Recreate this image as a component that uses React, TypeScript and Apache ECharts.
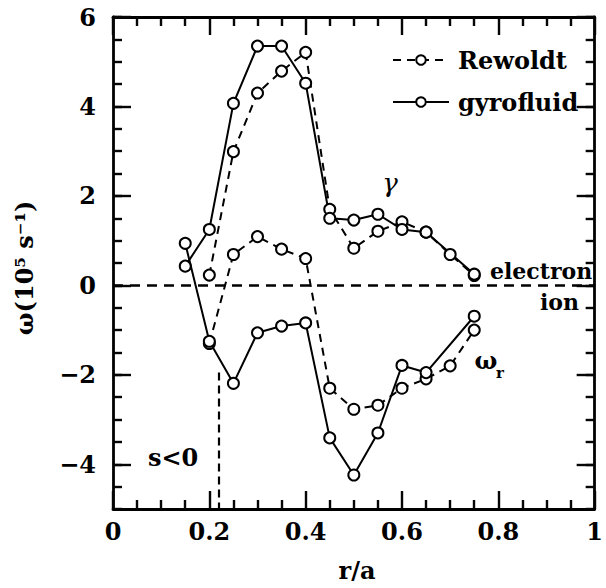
import React, { useEffect, useRef } from "react";
import * as echarts from "echarts";

const FONT = "'DejaVu Serif', serif";

// r/a positions
const gyroX = [0.15, 0.2, 0.25, 0.3, 0.35, 0.4, 0.45, 0.5, 0.55, 0.6, 0.65, 0.75];
const gyroGamma = [0.43, 1.25, 4.07, 5.35, 5.35, 4.52, 1.5, 1.46, 1.59, 1.25, 1.19, 0.25];
const gyroOmega = [0.94, -1.25, -2.19, -1.06, -0.91, -0.84, -3.41, -4.24, -3.3, -1.79, -1.95, -0.69];

const rewoldtX = [0.2, 0.25, 0.3, 0.35, 0.4, 0.45, 0.5, 0.55, 0.6, 0.65, 0.7, 0.75];
const rewoldtGamma = [0.23, 2.99, 4.3, 4.79, 5.21, 1.7, 0.83, 1.21, 1.42, 1.19, 0.69, 0.22];
const rewoldtOmega = [-1.3, 0.69, 1.09, 0.81, 0.6, -2.3, -2.77, -2.68, -2.3, -2.09, -1.8, -1.0];

const yMajorTicks = [-4, -2, 0, 2, 4, 6];
const sBoundaryX = 0.22;
const sBoundaryTop = -1.95;

const zip = (xs: number[], ys: number[]) => xs.map((x, i) => [x, ys[i]]);

const TICK_COLOR = "#050505";

function mkLine(name: string, xs: number[], ys: number[], dashed: boolean, extra: any = {}) {
  return {
    type: "line",
    name,
    data: zip(xs, ys),
    xAxisIndex: 0,
    yAxisIndex: 0,
    symbol: "emptyCircle",
    symbolSize: 11,
    showSymbol: true,
    itemStyle: { color: "#000", borderColor: "#000", borderWidth: 2 },
    lineStyle: { color: "#000", width: 2, type: dashed ? [8, 6] : "solid" },
    z: 3,
    ...extra,
  };
}

const axLine = () => ({ show: true, onZero: false, lineStyle: { color: "#000", width: 2.8 } });
const tick = (length: number, extra: any = {}) => ({
  show: true,
  inside: true,
  length,
  lineStyle: { color: TICK_COLOR, width: 2.4 },
  ...extra,
});
const labelStyle = () => ({ fontFamily: FONT, fontSize: 24, fontWeight: "bold", color: "#000" });

export default function App() {
  const ref = useRef<HTMLDivElement>(null);
  useEffect(() => {
    const chart = echarts.init(ref.current!, null, { renderer: "svg" });
    const option: any = {
      animation: false,
      grid: { left: 113, top: 17, right: 4, bottom: 79 },
      xAxis: [
        {
          type: "value",
          position: "bottom",
          min: 0,
          max: 1,
          interval: 0.2,
          axisLine: axLine(),
          axisTick: tick(18),
          minorTick: tick(9, { splitNumber: 4 }),
          splitLine: { show: false },
          axisLabel: {
            ...labelStyle(),
            margin: 10,
            formatter: (v: number) => (v === 0 ? "0" : Math.abs(v - 1) < 1e-9 ? "1" : v.toFixed(1)),
          },
        },
        {
          type: "value",
          position: "top",
          min: 0,
          max: 1,
          interval: 0.2,
          axisLine: axLine(),
          axisTick: tick(18),
          minorTick: tick(9, { splitNumber: 4 }),
          splitLine: { show: false },
          axisLabel: { show: false },
        },
      ],
      yAxis: [
        {
          type: "value",
          position: "left",
          min: -5,
          max: 6,
          interval: 0.5,
          axisLine: axLine(),
          axisTick: tick(9),
          splitLine: { show: false },
          axisLabel: {
            ...labelStyle(),
            margin: 17,
            formatter: (v: number) => {
              const r = Math.round(v * 2) / 2;
              if (Math.abs(r % 2) > 1e-9) return "";
              return r < 0 ? "\u2212" + -r : String(r);
            },
          },
        },
        {
          type: "value",
          position: "left",
          min: -5,
          max: 6,
          axisLine: { show: false, onZero: false },
          axisTick: tick(18, { customValues: yMajorTicks }),
          axisLabel: { show: false },
          splitLine: { show: false },
        },
        {
          type: "value",
          position: "right",
          min: -5,
          max: 6,
          interval: 0.5,
          axisLine: axLine(),
          axisTick: tick(9),
          axisLabel: { show: false },
          splitLine: { show: false },
        },
        {
          type: "value",
          position: "right",
          min: -5,
          max: 6,
          axisLine: { show: false, onZero: false },
          axisTick: tick(18, { customValues: yMajorTicks }),
          axisLabel: { show: false },
          splitLine: { show: false },
        },
      ],
      legend: {
        data: ["Rewoldt", "gyrofluid"],
        orient: "vertical",
        left: 387,
        top: 41,
        itemWidth: 56,
        itemHeight: 12,
        itemGap: 14,
        selectedMode: false,
        textStyle: { ...labelStyle(), lineHeight: 28, padding: [0, 0, 0, 4] },
      },
      series: [
        mkLine("Rewoldt", rewoldtX, rewoldtGamma, true, {
          markLine: {
            silent: true,
            symbol: "none",
            label: { show: false },
            data: [
              [
                { coord: [0, 0], lineStyle: { color: "#000", width: 2.5, type: [10, 7] } },
                { coord: [1, 0] },
              ],
              [
                { coord: [sBoundaryX, sBoundaryTop], lineStyle: { color: "#000", width: 2.2, type: [8, 5] } },
                { coord: [sBoundaryX, -5] },
              ],
            ],
          },
        }),
        mkLine("Rewoldt", rewoldtX, rewoldtOmega, true),
        mkLine("gyrofluid", gyroX, gyroGamma, false),
        mkLine("gyrofluid", gyroX, gyroOmega, false),
      ],
      graphic: [
        {
          type: "text",
          x: 24,
          y: 268,
          rotation: Math.PI / 2,
          style: {
            text: "\u03c9(10\u2075 s\u207b\u00b9)",
            font: "bold 24px " + FONT,
            fill: "#000",
            align: "center",
            verticalAlign: "middle",
          },
        },
        {
          type: "text",
          x: 357,
          y: 570,
          style: { text: "r/a", font: "bold 24px " + FONT, fill: "#000", align: "center", verticalAlign: "middle" },
        },
        {
          type: "text",
          x: 390,
          y: 183,
          style: { text: "\u03b3", font: "italic 26px " + FONT, fill: "#000", align: "center", verticalAlign: "middle" },
        },
        {
          type: "text",
          x: 486,
          y: 360,
          style: { text: "\u03c9", font: "bold 24px " + FONT, fill: "#000", align: "center", verticalAlign: "middle" },
        },
        {
          type: "text",
          x: 500,
          y: 373,
          style: { text: "r", font: "bold 15px " + FONT, fill: "#000", align: "center", verticalAlign: "middle" },
        },
        {
          type: "text",
          x: 490,
          y: 271,
          style: { text: "electron", font: "bold 22px " + FONT, fill: "#000", align: "left", verticalAlign: "middle" },
        },
        {
          type: "text",
          x: 540,
          y: 302,
          style: { text: "ion", font: "bold 22px " + FONT, fill: "#000", align: "left", verticalAlign: "middle" },
        },
        {
          type: "text",
          x: 148,
          y: 457,
          style: { text: "s<0", font: "bold 24px " + FONT, fill: "#000", align: "left", verticalAlign: "middle" },
        },
      ],
    };
    chart.setOption(option);
    return () => chart.dispose();
  }, []);
  return (
    <div
      ref={ref}
      style={{ position: "absolute", left: 0, top: 0, width: 606, height: 588, background: "#fff" }}
    />
  );
}
